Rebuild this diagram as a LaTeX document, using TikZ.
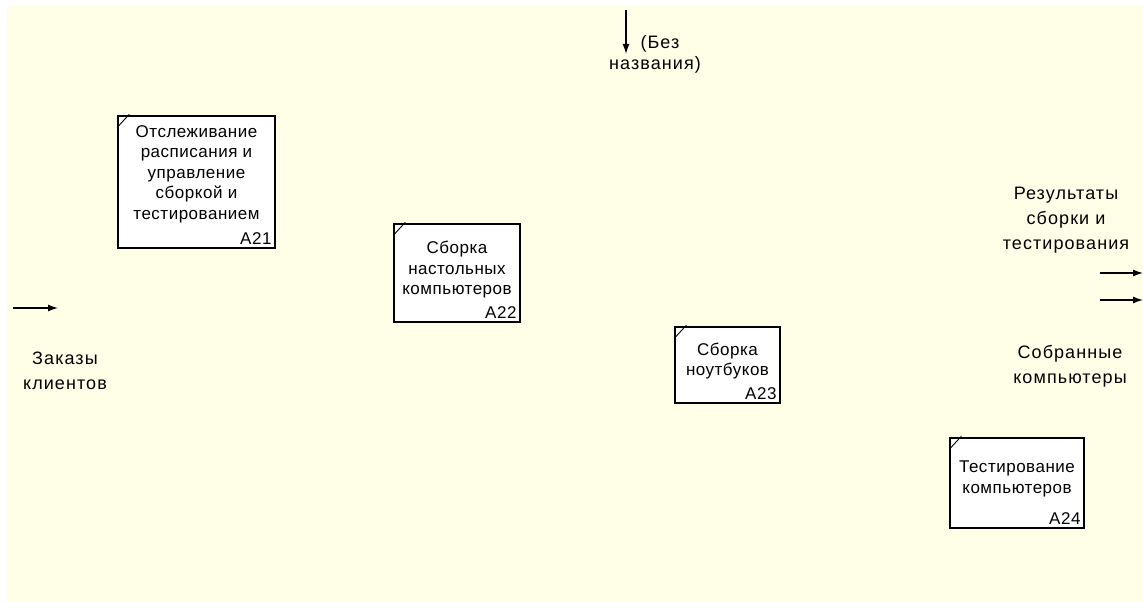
\documentclass[tikz,border=0pt]{standalone}
\usepackage{fontspec}
\setmainfont{Liberation Sans}[LetterSpace=3]
\newfontfamily\lblfont{Liberation Sans}[LetterSpace=6]
\usetikzlibrary{arrows.meta}
\definecolor{bgyellow}{RGB}{255,255,232}
\begin{document}
\begin{tikzpicture}[x=1pt,y=-1pt,
  box/.style={draw=black, line width=1.4pt, fill=white, inner sep=0pt},
  ttl/.style={align=center, inner sep=0pt, font=\fontsize{17}{20.5}\selectfont},
  idl/.style={anchor=south east, inner sep=0pt, xshift=-4pt, yshift=4pt, font=\fontsize{17}{18}\selectfont},
  lbl/.style={align=center, inner sep=0pt, font=\lblfont\fontsize{18}{25}\selectfont},
  arr/.style={line width=1.3pt, -{Latex[length=10pt,width=7pt]}},
  corner/.style={line width=0.9pt}]
\useasboundingbox (0,0) rectangle (1143,602);
\fill[white] (0,0) rectangle (1143,602);
\fill[bgyellow] (7,5) rectangle (1143,602);

% boxes
\node[box, minimum width=157pt, minimum height=132pt] (a21) at (196.5,182) {};
\node[box, minimum width=126pt, minimum height=98pt] (a22) at (457,273) {};
\node[box, minimum width=105pt, minimum height=76pt] (a23) at (727.5,365) {};
\node[box, minimum width=134pt, minimum height=90pt] (a24) at (1017,483) {};

\foreach \b in {a21,a22,a23,a24}{
  \draw[corner] ([yshift=-12pt]\b.north west) -- ([xshift=12pt,yshift=1pt]\b.north west);
}

\node[ttl] (t21) at (196.5,174) {Отслеживание\\расписания и\\управление\\сборкой и\\тестированием};
\node[idl] (i21) at (a21.south east) {A21};
\node[ttl] (t22) at (457,270) {Сборка\\настольных\\компьютеров};
\node[idl] (i22) at (a22.south east) {A22};
\node[ttl] (t23) at (727.5,361) {Сборка\\ноутбуков};
\node[idl] (i23) at (a23.south east) {A23};
\node[ttl] (t24) at (1017,479) {Тестирование\\компьютеров};
\node[idl] (i24) at (a24.south east) {A24};

% arrows
\coordinate (c0) at (626,10);
\coordinate (c1) at (626,54);
\draw[arr] (c0) -- (c1);
\node[lbl, font=\lblfont\fontsize{18}{21}\selectfont] (lc) at (655,54) {\hspace*{10pt}(Без\\названия)};

\coordinate (i0) at (13,308);
\coordinate (i1) at (58,308);
\draw[arr] (i0) -- (i1);
\node[lbl] (li) at (65,371) {Заказы\\клиентов};

\coordinate (o1a) at (1100,273);
\coordinate (o1b) at (1143,273);
\draw[arr] (o1a) -- (o1b);
\coordinate (o2a) at (1100,300);
\coordinate (o2b) at (1143,300);
\draw[arr] (o2a) -- (o2b);
\node[lbl] (lo1) at (1066,220) {Результаты\\сборки и\\тестирования};
\node[lbl] (lo2) at (1070,366) {Собранные\\компьютеры};
\end{tikzpicture}
\end{document}
